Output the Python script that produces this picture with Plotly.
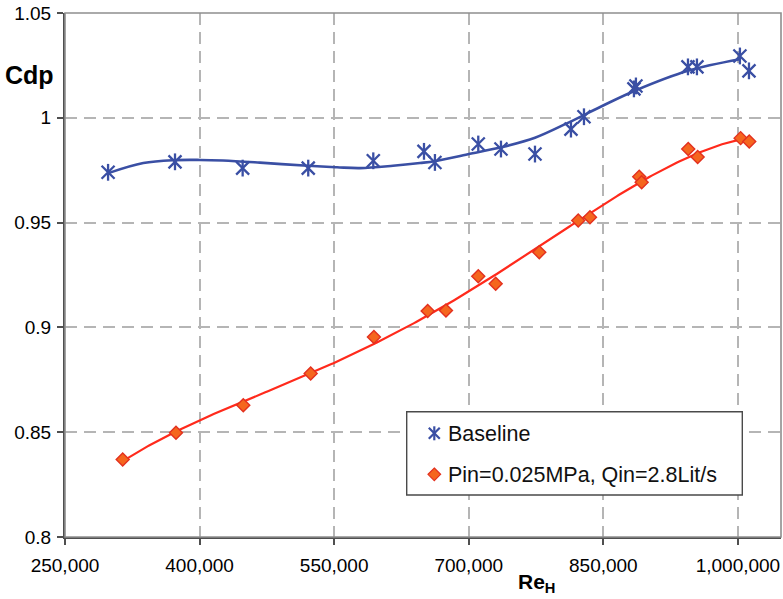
import numpy as np
import plotly.graph_objects as go

# Baseline measurements: Reynolds number (Re_H) vs discharge coefficient (Cdp)
re_base = [298000, 372600, 448000, 521100, 593600, 650100, 662300, 710600, 735900,
           773800, 813900, 828400, 884100, 886300, 944300, 954300, 1002200, 1012300]
cdp_base = [0.974, 0.979, 0.976, 0.976, 0.9795, 0.984, 0.9787, 0.9875, 0.9851,
            0.9827, 0.9946, 1.0005, 1.0138, 1.0152, 1.0243, 1.0243, 1.0295, 1.0224]

# Baseline trend curve
trend_base_re = [298300, 337300, 372600, 400400, 426100, 467300, 520800, 553100,
                 578700, 615500, 645600, 662300, 699100, 735900, 773800, 810500,
                 848100, 885200, 944300, 1002200]
trend_base_cdp = [0.9736, 0.9784, 0.9798, 0.9799, 0.9796, 0.9786, 0.9771, 0.9764,
                  0.9760, 0.9771, 0.9784, 0.9793, 0.9826, 0.9859, 0.9905, 0.9976,
                  1.0055, 1.0129, 1.0224, 1.0279]

# Injection case: Pin=0.025MPa, Qin=2.8Lit/s
re_inj = [314300, 373700, 448700, 523800, 594300, 654200, 674600, 710600, 730000,
          778600, 822000, 835100, 890000, 892700, 944600, 955100, 1003000, 1012600]
cdp_inj = [0.837, 0.8497, 0.8629, 0.878, 0.8954, 0.9078, 0.9081, 0.9244, 0.9208,
           0.9359, 0.951, 0.9525, 0.9719, 0.9692, 0.9851, 0.9813, 0.9903, 0.9887]

x_ticks = [250000, 400000, 550000, 700000, 850000, 1000000]
y_ticks = [0.8, 0.85, 0.9, 0.95, 1.0, 1.05]

series_names = ["Baseline", "Pin=0.025MPa, Qin=2.8Lit/s"]

BLUE = "#3a4fa4"
RED = "#ff2a1c"
ORANGE = "#f5661e"
RED_EDGE = "#e3301f"
FONT = "Liberation Sans, Arial, sans-serif"

TREND_END = 1003000


def poly_trend(x, y, deg):
    x = np.asarray(x, float)
    y = np.asarray(y, float)
    xm, xs = x.mean(), x.std()
    coef = np.polyfit((x - xm) / xs, y, deg)
    xx = np.linspace(x.min(), TREND_END, 300)
    return xx, np.polyval(coef, (xx - xm) / xs)


fig = go.Figure()

# trend lines
fig.add_trace(go.Scatter(x=trend_base_re, y=trend_base_cdp, mode="lines",
                         line=dict(color=BLUE, width=2.6, shape="spline", smoothing=1.0),
                         hoverinfo="skip"))
tx, ty = poly_trend(re_inj, cdp_inj, 4)
fig.add_trace(go.Scatter(x=tx, y=ty, mode="lines", line=dict(color=RED, width=2.2),
                         hoverinfo="skip"))

# baseline markers: six-armed asterisk built from an X and a vertical bar
fig.add_trace(go.Scatter(x=re_base, y=cdp_base, mode="markers", name=series_names[0],
                         marker=dict(symbol="x-thin-open", size=13, color=BLUE,
                                     line=dict(color=BLUE, width=2.3))))
fig.add_trace(go.Scatter(x=re_base, y=cdp_base, mode="markers", name=series_names[0],
                         marker=dict(symbol="line-ns-open", size=12, color=BLUE,
                                     line=dict(color=BLUE, width=2.3))))

# injection markers: orange diamonds
fig.add_trace(go.Scatter(x=re_inj, y=cdp_inj, mode="markers", name=series_names[1],
                         marker=dict(symbol="diamond", size=10, color=ORANGE,
                                     line=dict(color=RED_EDGE, width=1.4))))

# plot geometry in pixels (for placing the legend box and titles)
L, R, T, B = 65, 781, 13, 537


def px(x):
    return (x - L) / (R - L)


def py(y):
    return (B - y) / (B - T)


shapes = [
    # light frame on the top and right sides
    dict(type="rect", xref="paper", yref="paper", x0=0, x1=1, y0=0, y1=1,
         line=dict(color="#8e8e8e", width=1.6), layer="above"),
    # legend box
    dict(type="rect", xref="paper", yref="paper",
         x0=px(406.7), x1=px(742.3), y0=py(495), y1=py(411.7),
         fillcolor="white", line=dict(color="#4a4a4a", width=1.4), layer="above"),
]

# legend icon: asterisk
cx, cy = 434.3, 433.3
for (dx0, dy0, dx1, dy1) in [(-5.5, -5.5, 5.5, 5.5), (-5.5, 5.5, 5.5, -5.5), (0, -7, 0, 7)]:
    shapes.append(dict(type="line", xref="paper", yref="paper",
                       x0=px(cx + dx0), y0=py(cy + dy0), x1=px(cx + dx1), y1=py(cy + dy1),
                       line=dict(color=BLUE, width=2.2), layer="above"))
# legend icon: diamond
cx, cy, h = 434.3, 474.3, 6.3
path = "M {} {} L {} {} L {} {} L {} {} Z".format(
    px(cx), py(cy - h), px(cx + h), py(cy), px(cx), py(cy + h), px(cx - h), py(cy))
shapes.append(dict(type="path", xref="paper", yref="paper", path=path,
                   fillcolor=ORANGE, line=dict(color=RED_EDGE, width=1.2), layer="above"))

annotations = [
    dict(text=series_names[0], xref="paper", yref="paper", x=px(446), y=py(433.5),
         xanchor="left", yanchor="middle", showarrow=False,
         font=dict(family=FONT, size=21.5, color="#111")),
    dict(text=series_names[1], xref="paper", yref="paper", x=px(446), y=py(474.5),
         xanchor="left", yanchor="middle", showarrow=False,
         font=dict(family=FONT, size=21.5, color="#111")),
    dict(text="<b>Cdp</b>", xref="paper", yref="paper", x=px(29), y=py(75),
         xanchor="center", yanchor="middle", showarrow=False,
         font=dict(family=FONT, size=25, color="black")),
    dict(text="<b>Re<sub>H</sub></b>", xref="paper", yref="paper", x=px(536), y=py(583),
         xanchor="center", yanchor="middle", showarrow=False,
         font=dict(family=FONT, size=21, color="black")),
]

axis_common = dict(
    showline=True, linecolor="#4f4f4f", linewidth=2,
    ticks="outside", ticklen=6, tickwidth=1.6, tickcolor="#4f4f4f",
    showgrid=True, gridcolor="#b5b5b5", gridwidth=1.5, griddash="12px,7px",
    zeroline=False, tickfont=dict(family=FONT, size=19, color="black"),
)

fig.update_xaxes(range=[250000, 1048000], tickvals=x_ticks, tickformat=",",
                 ticklabelstandoff=4, **axis_common)
fig.update_yaxes(range=[0.8, 1.05], tickvals=y_ticks, ticklabelstandoff=2, **axis_common)

fig.update_layout(
    width=783, height=599,
    margin=dict(l=L, r=783 - R, t=T, b=599 - B),
    plot_bgcolor="white", paper_bgcolor="white",
    showlegend=False,
    font=dict(family=FONT, size=19, color="black"),
    shapes=shapes, annotations=annotations,
)

fig.write_html("out.html")
